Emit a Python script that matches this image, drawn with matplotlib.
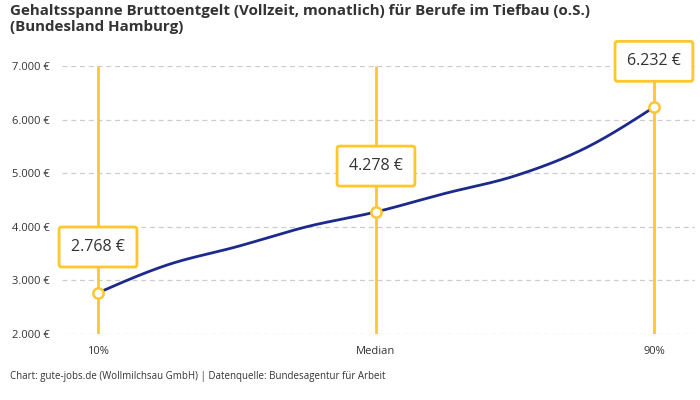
import numpy as np
import matplotlib.pyplot as plt

plt.rcParams['font.family'] = ['Open Sans', 'DejaVu Sans']

# visible points
categories = ["10%", "Median", "90%"]
values = [2768, 4278, 6232]

# curve passes through these percentile values
curve_pos = [0, 0.25, 0.5, 0.75, 1, 1.25, 1.5, 1.75, 2]
curve_values = [2768, 3290, 3630, 4000, 4278, 4625, 4950, 5460, 6232]

y_ticks = [2000, 3000, 4000, 5000, 6000, 7000]

YELLOW = "#FFC72C"
NAVY = "#1B2A8C"
TEXT = "#333333"


def fmt_eur(v):
    return f"{v:,.0f} €".replace(",", ".")


def monotone_curve(xs, ys, n=40):
    # monotone cubic (Fritsch-Carlson) like d3.curveMonotoneX
    xs = np.asarray(xs, float)
    ys = np.asarray(ys, float)
    h = np.diff(xs)
    s = np.diff(ys) / h
    t = np.zeros(len(xs))
    for i in range(1, len(xs) - 1):
        p = (s[i - 1] * h[i] + s[i] * h[i - 1]) / (h[i - 1] + h[i])
        t[i] = (np.sign(s[i - 1]) + np.sign(s[i])) * min(abs(s[i - 1]), abs(s[i]), 0.5 * abs(p))
    t[0] = (3 * s[0] - t[1]) / 2
    t[-1] = (3 * s[-1] - t[-2]) / 2
    out_x, out_y = [], []
    for i in range(len(xs) - 1):
        u = np.linspace(0, 1, n)
        h00 = 2 * u**3 - 3 * u**2 + 1
        h10 = u**3 - 2 * u**2 + u
        h01 = -2 * u**3 + 3 * u**2
        h11 = u**3 - u**2
        out_x.extend(xs[i] + u * h[i])
        out_y.extend(h00 * ys[i] + h10 * h[i] * t[i] + h01 * ys[i + 1] + h11 * h[i] * t[i + 1])
    return np.array(out_x), np.array(out_y)


fig = plt.figure(figsize=(7, 4), dpi=100)
ax = fig.add_axes([0.0886, 0.165, 0.904, 0.67])

x = np.arange(len(categories))
ax.set_xlim(-0.1295, 2.147)
ax.set_ylim(2000, 7000)

for yt in y_ticks:
    ax.axhline(yt, color="#cccccc", lw=0.9, ls=(0, (4, 3)), zorder=0)

ax.vlines(x, 2000, 7000, color=YELLOW, lw=2, zorder=1)

cx, cy = monotone_curve(curve_pos, curve_values)
ax.plot(cx, cy, color=NAVY, lw=2, zorder=2, solid_capstyle="round")
ax.scatter(x, values, s=55, facecolor="white", edgecolor=YELLOW, linewidth=1.8, zorder=3)

for xi, v in zip(x, values):
    ax.annotate(fmt_eur(v), (xi, v), xytext=(0, 33), textcoords="offset points",
                ha="center", va="center", fontsize=11.5, color=TEXT, zorder=4,
                annotation_clip=False,
                bbox=dict(boxstyle="round,pad=0.75,rounding_size=0.15", fc="white",
                          ec=YELLOW, lw=2))

ax.set_xticks(x)
ax.set_xticklabels(categories)
ax.set_yticks(y_ticks)
ax.set_yticklabels([fmt_eur(v) for v in y_ticks])
ax.tick_params(axis="both", length=0, labelsize=8, colors=TEXT)
ax.tick_params(axis="y", pad=8.5)
ax.tick_params(axis="x", pad=9)
for sp in ax.spines.values():
    sp.set_visible(False)

fig.text(0.014, 0.99, "Gehaltsspanne Bruttoentgelt (Vollzeit, monatlich) für Berufe im Tiefbau (o.S.)\n(Bundesland Hamburg)",
         ha="left", va="top", fontsize=10.9, fontweight="bold", color=TEXT, linespacing=1.15)
fig.text(0.014, 0.058, "Chart: gute-jobs.de (Wollmilchsau GmbH) | Datenquelle: Bundesagentur für Arbeit",
         ha="left", va="center", fontsize=7, color=TEXT)

fig.savefig("out.png", dpi=100, facecolor="white")
